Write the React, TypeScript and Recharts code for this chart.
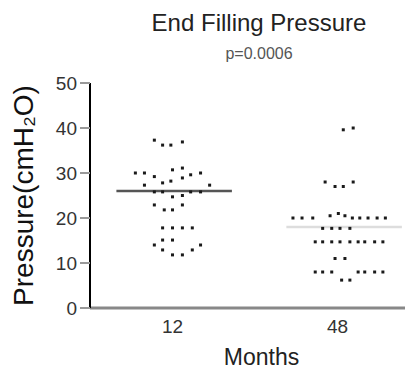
import {
  ScatterChart,
  Scatter,
  XAxis,
  YAxis,
  ReferenceLine,
  Label,
} from 'recharts';

// values (cmH2O)
const months12Values = [
  37.3, 36.2, 36.2, 36.9,
  30.0, 30.0, 29.2, 30.7, 31.1, 29.6, 30.0,
  27.3, 27.8, 28.2, 28.9, 27.3,
  25.8, 25.8, 24.7, 25.0, 25.8, 25.8,
  22.9, 21.8, 21.8, 22.9,
  17.8, 17.8, 17.8, 17.8,
  14.0, 15.1, 15.1, 14.0,
  12.9, 11.8, 11.8, 12.9,
];
// horizontal spread of each dot around its category
const months12Jitter = [
  -0.22, -0.12, -0.02, 0.12,
  -0.45, -0.34, -0.22, 0.0, 0.12, 0.22, 0.34,
  -0.34, -0.12, -0.02, 0.12, 0.45,
  -0.22, -0.12, 0.0, 0.12, 0.22, 0.34,
  -0.22, -0.1, 0.0, 0.12,
  -0.12, 0.0, 0.12, 0.24,
  -0.22, -0.12, 0.0, 0.34,
  -0.12, 0.0, 0.12, 0.24,
];

const months48Values = [
  39.6, 40.0,
  28.0, 27.0, 27.0, 28.0,
  20.0, 20.0, 20.0, 20.5, 21.0, 20.5, 20.0, 20.0, 20.0, 20.0, 20.0,
  17.7, 17.7, 17.7, 17.7,
  14.7, 14.7, 14.7, 14.7, 14.7, 14.7, 14.7, 14.7, 14.7,
  11.0, 11.0,
  8.0, 8.0, 8.0, 8.0, 8.0, 8.0, 8.0,
  6.2, 6.2,
];
const months48Jitter = [
  0.07, 0.19,
  -0.15, -0.03, 0.07, 0.19,
  -0.54, -0.43, -0.3, -0.09, 0.01, 0.09, 0.18, 0.27, 0.37, 0.48, 0.58,
  -0.18, -0.07, 0.03, 0.15,
  -0.27, -0.18, -0.07, 0.03, 0.15, 0.25, 0.33, 0.45, 0.55,
  -0.03, 0.09,
  -0.27, -0.18, -0.07, 0.25, 0.33, 0.45, 0.55,
  0.05, 0.15,
];

const categories = ['12', '48'];
const categoryPos = [1, 3];
const means = [26, 18];
const yTicks = [0, 10, 20, 30, 40, 50];

const data12 = months12Values.map((v, i) => ({ x: categoryPos[0] + months12Jitter[i], y: v }));
const data48 = months48Values.map((v, i) => ({ x: categoryPos[1] + months48Jitter[i], y: v }));

const font = '"Liberation Sans", Arial, sans-serif';

const Dot = (props: any) => {
  const { cx, cy } = props;
  return <rect x={cx - 1.5} y={cy - 1.5} width={3} height={3} fill="#1a1a1a" />;
};

export default function App() {
  return (
    <div style={{ position: 'relative', width: 405, height: 361, fontFamily: font }}>
      <div
        style={{
          position: 'absolute',
          left: 101,
          width: 300,
          top: 1,
          textAlign: 'center',
          fontSize: 24,
          color: '#222',
          whiteSpace: 'nowrap',
        }}
      >
        End Filling Pressure
      </div>
      <div
        style={{
          position: 'absolute',
          left: 101,
          width: 300,
          top: 37,
          textAlign: 'center',
          fontSize: 16,
          color: '#555',
        }}
      >
        p=0.0006
      </div>
      <ScatterChart
        width={405}
        height={361}
        margin={{ top: 75, right: 0, bottom: 31, left: 22 }}
      >
        <XAxis
          type="number"
          dataKey="x"
          domain={[0, 3.915]}
          ticks={categoryPos}
          tickFormatter={(v) => categories[categoryPos.indexOf(v)] ?? ''}
          tickLine={false}
          axisLine={{ stroke: '#888', strokeWidth: 3 }}
          tick={{ fill: '#333', fontSize: 19, fontFamily: font }}
          tickMargin={6}
          height={30}
          allowDataOverflow
        >
          <Label value="Months" position="insideBottom" offset={-27} dx={10} fill="#222" fontSize={23} fontFamily={font} />
        </XAxis>
        <YAxis
          type="number"
          dataKey="y"
          domain={[0, 50]}
          ticks={yTicks}
          width={60}
          axisLine={{ stroke: '#000', strokeWidth: 2 }}
          tickLine={{ stroke: '#999', strokeWidth: 2 }}
          tickSize={10}
          tickMargin={3}
          tick={{ fill: '#333', fontSize: 19, fontFamily: font }}
        >
          <Label
            value="Pressure(cmH₂O)"
            angle={-90}
            position="insideLeft"
            offset={-7}
            style={{ textAnchor: 'middle' }}
            fill="#111"
            fontSize={28}
            fontFamily={font}
          />
        </YAxis>
        <ReferenceLine
          segment={[{ x: categoryPos[0] - 0.68, y: means[0] }, { x: categoryPos[0] + 0.72, y: means[0] }]}
          stroke="#555"
          strokeWidth={2.5}
        />
        <ReferenceLine
          segment={[{ x: categoryPos[1] - 0.62, y: means[1] }, { x: categoryPos[1] + 0.78, y: means[1] }]}
          stroke="#ddd"
          strokeWidth={2.5}
        />
        <Scatter data={data12} shape={<Dot />} isAnimationActive={false} />
        <Scatter data={data48} shape={<Dot />} isAnimationActive={false} />
      </ScatterChart>
    </div>
  );
}
